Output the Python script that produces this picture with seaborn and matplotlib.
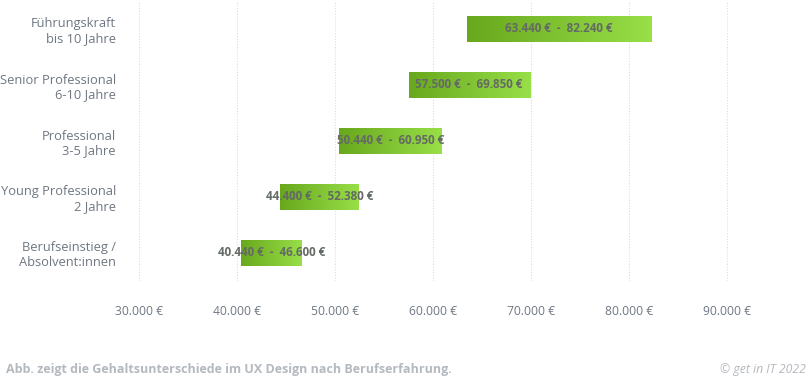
import numpy as np
import pandas as pd
import matplotlib
matplotlib.use("Agg")
import matplotlib.pyplot as plt
import matplotlib.colors as mc
from matplotlib.ticker import FuncFormatter
import seaborn as sns

# data
stufen = ["Führungskraft\nbis 10 Jahre",
          "Senior Professional\n6-10 Jahre",
          "Professional\n3-5 Jahre",
          "Young Professional\n2 Jahre",
          "Berufseinstieg /\nAbsolvent:innen"]
von = [63440, 57500, 50440, 44400, 40440]
bis = [82240, 69850, 60950, 52380, 46600]
xticks = [30000, 40000, 50000, 60000, 70000, 80000, 90000]

def euro(v):
    return "{:,.0f} €".format(v).replace(",", ".")

df = pd.DataFrame({"stufe": stufen, "von": von, "bis": bis})
df["spanne"] = df["bis"] - df["von"]

sns.set_style("white")
plt.rcParams["font.family"] = ["Open Sans", "DejaVu Sans"]

fig = plt.figure(figsize=(8.08, 3.76), dpi=100)
ax = fig.add_axes([120/808, 1 - 281/376, 680/808, 280/376])

sns.barplot(data=df, y="stufe", x="spanne", left=df["von"], orient="h",
            color="#7fc232", width=0.48, ax=ax, zorder=3)

# horizontal green gradient clipped to each bar
cmap = mc.LinearSegmentedColormap.from_list("gruen", ["#68a81d", "#98df48"])
grad = np.linspace(0, 1, 256).reshape(1, -1)
for p in ax.patches:
    x0, y0 = p.get_x(), p.get_y()
    w, h = p.get_width(), p.get_height()
    p.set_facecolor("none")
    p.set_edgecolor("none")
    im = ax.imshow(grad, cmap=cmap, aspect="auto", zorder=3,
                   extent=[x0, x0 + w, y0 + h, y0], interpolation="bicubic")
    im.set_clip_path(p)

for i, row in df.iterrows():
    ax.text((row["von"] + row["bis"]) / 2, i,
            euro(row["von"]) + "  -  " + euro(row["bis"]),
            ha="center", va="center", fontsize=8.4, fontweight="bold",
            color="#646a64", zorder=4)

ax.set_xlim(28060, 97450)
ax.set_ylim(4.5, -0.5)
ax.set_xticks(xticks)
ax.xaxis.set_major_formatter(FuncFormatter(lambda v, _: euro(v)))
ax.tick_params(axis="x", length=0, pad=17, labelsize=8.7, labelcolor="#6e7782")
ax.tick_params(axis="y", length=0, pad=3, labelsize=9.3, labelcolor="#6e7782")
for lab in ax.get_yticklabels():
    lab.set_horizontalalignment("right")
    lab.set_multialignment("right")
ax.set_xlabel("")
ax.set_ylabel("")
ax.grid(axis="x", color="#dcdcdc", linestyle=(0, (1, 1.5)), linewidth=0.8, zorder=0)
ax.set_axisbelow(True)
sns.despine(ax=ax, left=True, bottom=True)

fig.text(6/808, 1 - 369/376, "Abb. zeigt die Gehaltsunterschiede im UX Design nach Berufserfahrung.",
         ha="left", va="center", fontsize=9.0, fontweight="bold", color="#b4b9bf")
fig.text(806/808, 1 - 369/376, "© get in IT 2022", ha="right", va="center",
         fontsize=8.8, style="italic", color="#b4b9bf")

fig.savefig("out.png", dpi=100)
